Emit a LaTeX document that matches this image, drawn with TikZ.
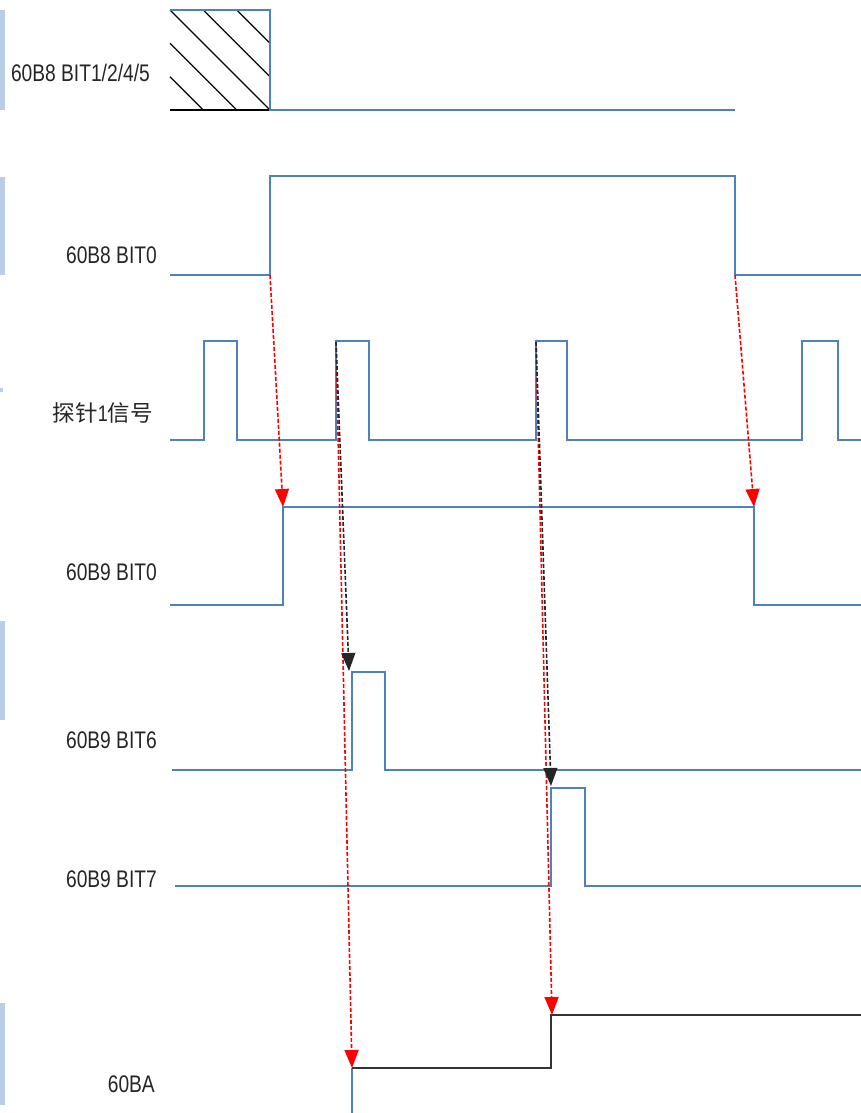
\documentclass[tikz,border=0pt]{standalone}
\usepackage{fontspec}
\setmainfont{Liberation Sans}[FakeStretch=0.8]
\newfontfamily\cjk{Noto Sans CJK SC}
\usetikzlibrary{arrows.meta}
\definecolor{sig}{HTML}{4F81BD}
\definecolor{barc}{HTML}{B9CDE5}
\begin{document}
\begin{tikzpicture}[x=1pt,y=-1pt,
  wave/.style={sig, line width=1.5pt, line join=miter},
  lbl/.style={anchor=base east, inner sep=0pt, font=\fontsize{24}{28}\selectfont, text=black!85},
  hatch/.style={black, line width=1.2pt},
  redarr/.style={red, line width=1.6pt, dash pattern=on 4pt off 2pt, -{Triangle[width=14pt,length=18pt]}},
  blkarr/.style={black!85, line width=1.6pt, dash pattern=on 4pt off 2pt, -{Triangle[width=14pt,length=18pt]}},
  sidebar/.style={fill=barc, draw=none}]
\useasboundingbox (0,0) rectangle (861,1113);
\fill[white] (0,0) rectangle (861,1113);

% side bars
\fill[sidebar] (0,10) rectangle (5,110);
\fill[sidebar] (0,177) rectangle (5,275);
\fill[sidebar] (0,388) rectangle (3,392);
\fill[sidebar] (0,621) rectangle (5,720);
\fill[sidebar] (0,1003) rectangle (5,1105);

% labels
\node[lbl] (l1) at (150,82) {60B8 BIT1/2/4/5};
\node[lbl] (l2) at (157,263) {60B8 BIT0};
\node[lbl, font=\fontsize{22.5}{27}\selectfont] (l3) at (153,421) {{\cjk 探针}1{\cjk 信号}};
\node[lbl] (l4) at (157,580) {60B9 BIT0};
\node[lbl] (l5) at (157,748) {60B9 BIT6};
\node[lbl] (l6) at (157,887) {60B9 BIT7};
\node[lbl] (l7) at (155,1092) {60BA};

% hatched region
\draw[hatch] (170,10)--(270,110) (203.3,10)--(270,76.7) (236.7,10)--(270,43.3)
             (170,43.3)--(236.7,110) (170,76.7)--(203.3,110);
\draw[hatch] (170,110)--(270,110);
\draw[wave] (170,10)--(270,10)--(270,110)--(735,110);

% 60B8 BIT0
\draw[wave] (170,275)--(270,275)--(270,176)--(735,176)--(735,275)--(861,275);
% probe 1
\draw[wave] (170,440)--(204,440)--(204,341)--(237,341)--(237,440)--(336,440)--(336,341)--(369,341)--(369,440)
  --(536,440)--(536,341)--(567,341)--(567,440)--(802,440)--(802,341)--(838,341)--(838,440)--(861,440);
% 60B9 BIT0
\draw[wave] (170,605)--(283,605)--(283,507)--(754,507)--(754,605)--(861,605);
% 60B9 BIT6
\draw[wave] (172,770)--(352,770)--(352,672)--(385,672)--(385,770)--(861,770);
% 60B9 BIT7
\draw[wave] (175,886)--(551,886)--(551,788)--(585,788)--(585,886)--(861,886);
% 60BA
\draw[wave] (352,1068)--(352,1113);
\draw[black!80, line width=2pt] (352,1068)--(551,1068)--(551,1015)--(861,1015);

% event coordinates
\coordinate (b8rise) at (270,275);
\coordinate (b8fall) at (735,275);
\coordinate (p1) at (336,342);
\coordinate (p2) at (536,342);
\coordinate (b9rise) at (283,507);
\coordinate (b9fall) at (754,507);
\coordinate (b6) at (349,671);
\coordinate (b7) at (551,786);
\coordinate (ba1) at (352,1068);
\coordinate (ba2) at (552,1015);

% arrows
\draw[redarr] (b8rise) -- (b9rise);
\draw[redarr] (b8fall) -- (b9fall);
\draw[redarr] (p1) -- (ba1);
\draw[redarr] (p2) -- (ba2);
\draw[blkarr] (p1) -- (b6);
\draw[blkarr] (p2) -- (b7);
\end{tikzpicture}
\end{document}
